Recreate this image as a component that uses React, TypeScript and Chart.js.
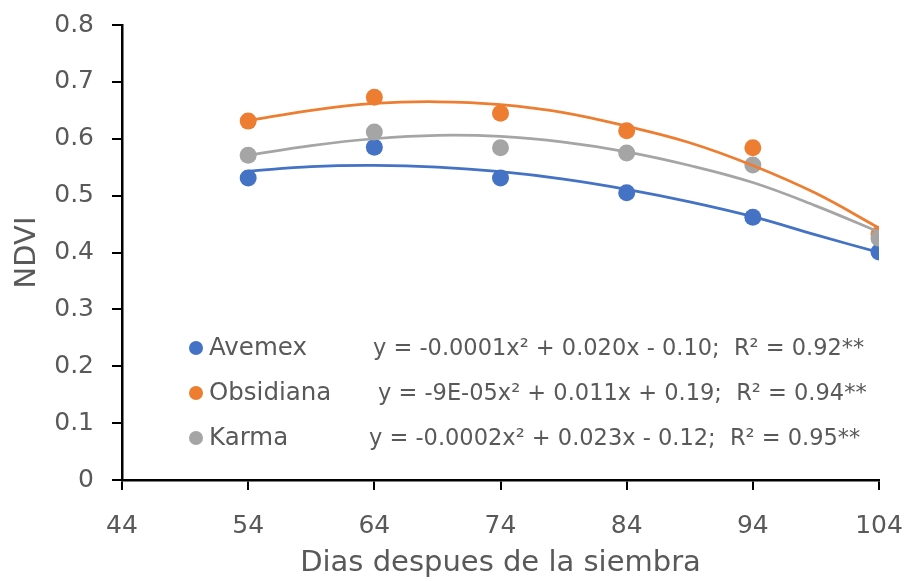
import React, { useEffect, useRef } from "react";
import { Chart, registerables } from "chart.js";

Chart.register(...registerables);

// ---- data ----
const days = [54, 64, 74, 84, 94, 104];
const avemex = [0.531, 0.585, 0.531, 0.505, 0.462, 0.401];
const obsidiana = [0.631, 0.673, 0.645, 0.614, 0.584, 0.432];
const karma = [0.571, 0.612, 0.584, 0.575, 0.554, 0.425];

// trend curves
const trendDays = [54, 59, 64, 69, 74, 79, 84, 89, 94, 99, 104];
const avemexTrend = [0.543, 0.551, 0.553, 0.55, 0.542, 0.529, 0.511, 0.489, 0.463, 0.431, 0.4];
const obsidianaTrend = [0.632, 0.65, 0.662, 0.665, 0.66, 0.646, 0.622, 0.593, 0.553, 0.504, 0.443];
const karmaTrend = [0.571, 0.588, 0.6, 0.606, 0.604, 0.594, 0.577, 0.553, 0.523, 0.482, 0.436];

const xTicks = [44, 54, 64, 74, 84, 94, 104];
const yTicks = [0, 0.1, 0.2, 0.3, 0.4, 0.5, 0.6, 0.7, 0.8];

const seriesNames = ["Avemex", "Obsidiana", "Karma"];
const equations = [
  "y = -0.0001x\u00B2 + 0.020x - 0.10;  R\u00B2 = 0.92**",
  "y = -9E-05x\u00B2 + 0.011x + 0.19;  R\u00B2 = 0.94**",
  "y = -0.0002x\u00B2 + 0.023x - 0.12;  R\u00B2 = 0.95**",
];

const BLUE = "#4472C4";
const ORANGE = "#ED7D31";
const GREY = "#A5A5A5";
const TEXT = "#595959";
const FONT = "'DejaVu Sans', 'Liberation Sans', Arial, sans-serif";

const colors = [BLUE, ORANGE, GREY];

// legend placement (pixels)
const legendRows = [
  { cy: 348, eqX: 373 },
  { cy: 393, eqX: 378 },
  { cy: 438, eqX: 369 },
];

const legendPlugin = {
  id: "trendLegend",
  afterDatasetsDraw(chart: any) {
    const ctx = chart.ctx as CanvasRenderingContext2D;
    ctx.save();
    legendRows.forEach((row, i) => {
      ctx.beginPath();
      ctx.fillStyle = colors[i];
      ctx.arc(196, row.cy, 7, 0, Math.PI * 2);
      ctx.fill();
      ctx.fillStyle = TEXT;
      ctx.textBaseline = "middle";
      ctx.textAlign = "left";
      ctx.font = `24.5px ${FONT}`;
      ctx.fillText(seriesNames[i], 209, row.cy + 1);
      ctx.font = `22.5px ${FONT}`;
      ctx.fillText(equations[i], row.eqX, row.cy + 1);
    });
    ctx.restore();
  },
};

function pts(xs: number[], ys: number[]) {
  return xs.map((x, i) => ({ x, y: ys[i] }));
}

function zeroPadding(s: any) {
  s.paddingLeft = 0;
  s.paddingRight = 0;
  s.paddingTop = 0;
  s.paddingBottom = 0;
}

export default function App() {
  const ref = useRef<HTMLCanvasElement | null>(null);

  useEffect(() => {
    if (!ref.current) return;
    const trend = (label: string, data: number[], color: string, order: number) => ({
      label,
      data: pts(trendDays, data),
      borderColor: color,
      backgroundColor: color,
      borderWidth: 2.75,
      pointRadius: 0,
      tension: 0.4,
      fill: false,
      order,
    });
    const marks = (label: string, data: number[], color: string, order: number) => ({
      label,
      data: pts(days, data),
      showLine: false,
      borderColor: color,
      backgroundColor: color,
      pointBackgroundColor: color,
      pointBorderColor: color,
      pointBorderWidth: 0,
      pointRadius: 8.5,
      order,
    });

    const chart = new Chart(ref.current, {
      type: "line",
      data: {
        datasets: [
          trend("Avemex trend", avemexTrend, BLUE, 3),
          trend("Karma trend", karmaTrend, GREY, 2),
          trend("Obsidiana trend", obsidianaTrend, ORANGE, 1),
          marks("Avemex", avemex, BLUE, 6),
          marks("Obsidiana", obsidiana, ORANGE, 5),
          marks("Karma", karma, GREY, 4),
        ] as any,
      },
      options: {
        responsive: false,
        animation: false,
        layout: { padding: { top: 25, right: 26, left: 0, bottom: 0 } },
        plugins: { legend: { display: false }, tooltip: { enabled: false } },
        scales: {
          x: {
            type: "linear",
            min: 44,
            max: 104,
            afterBuildTicks: (s: any) => {
              s.ticks = xTicks.map((v) => ({ value: v }));
            },
            afterFit: (s: any) => {
              s.height = 101;
              zeroPadding(s);
            },
            grid: {
              drawOnChartArea: false,
              drawTicks: true,
              tickLength: 10,
              color: "#000",
              lineWidth: 2,
            },
            border: { color: "#000", width: 2.5 },
            ticks: {
              color: TEXT,
              font: { family: FONT, size: 25 },
              padding: 21,
              maxRotation: 0,
              autoSkip: false,
              callback: (v: any) => String(v),
            },
            title: {
              display: true,
              text: "Dias despues de la siembra",
              color: TEXT,
              font: { family: FONT, size: 29 },
              padding: 0,
            },
          },
          y: {
            min: 0,
            max: 0.8,
            afterBuildTicks: (s: any) => {
              s.ticks = yTicks.map((v) => ({ value: v }));
            },
            afterFit: (s: any) => {
              s.width = 122;
              zeroPadding(s);
            },
            grid: {
              drawOnChartArea: false,
              drawTicks: true,
              tickLength: 10,
              color: "#000",
              lineWidth: 2,
            },
            border: { color: "#000", width: 2.5 },
            ticks: {
              color: TEXT,
              font: { family: FONT, size: 25 },
              padding: 18,
              autoSkip: false,
              callback: (v: any) => (Number(v) === 0 ? "0" : Number(v).toFixed(1)),
            },
            title: {
              display: true,
              text: "NDVI",
              color: TEXT,
              font: { family: FONT, size: 29 },
              padding: { top: 10, bottom: 0 },
            },
          },
        },
      } as any,
      plugins: [legendPlugin],
    });
    return () => chart.destroy();
  }, []);

  return (
    <div style={{ position: "fixed", left: 0, top: 0, width: 905, height: 581, background: "#fff" }}>
      <canvas ref={ref} width={905} height={581} style={{ display: "block" }} />
    </div>
  );
}
